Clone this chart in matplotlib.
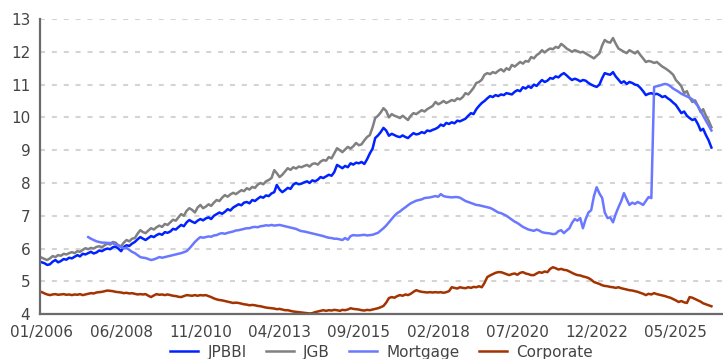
import matplotlib
matplotlib.use("Agg")
import matplotlib.pyplot as plt
import matplotlib.dates as mdates
import pandas as pd

# Monthly yields (%), Jan 2006 onwards
months = pd.date_range("2006-01-01", periods=246, freq="MS")

jpbbi = [
    5.58, 5.55, 5.50, 5.52, 5.60, 5.65, 5.58, 5.62, 5.68, 5.66, 5.72, 5.70,
    5.75, 5.80, 5.76, 5.84, 5.82, 5.86, 5.90, 5.85, 5.88, 5.94, 5.92, 5.97,
    6.00, 5.98, 6.04, 6.06, 6.00, 5.92, 6.05, 6.10, 6.08, 6.15, 6.20, 6.28,
    6.35, 6.30, 6.26, 6.32, 6.38, 6.35, 6.41, 6.45, 6.42, 6.50, 6.48, 6.52,
    6.60, 6.58, 6.65, 6.72, 6.68, 6.80, 6.87, 6.82, 6.78, 6.85, 6.90, 6.86,
    6.92, 6.95, 6.90, 7.00, 7.05, 7.10, 7.06, 7.12, 7.20, 7.16, 7.25, 7.30,
    7.35, 7.32, 7.40, 7.42, 7.38, 7.48, 7.45, 7.52, 7.58, 7.55, 7.62, 7.60,
    7.68, 7.72, 7.94, 7.80, 7.72, 7.78, 7.85, 7.82, 7.95, 8.00, 7.96, 7.98,
    8.02, 8.05, 8.00, 8.08, 8.05, 8.10, 8.18, 8.15, 8.20, 8.25, 8.22, 8.33,
    8.55, 8.50, 8.45, 8.52, 8.48, 8.60, 8.56, 8.62, 8.60, 8.64, 8.58, 8.72,
    8.90, 9.05, 9.37, 9.45, 9.55, 9.68, 9.60, 9.44, 9.50, 9.46, 9.42, 9.40,
    9.45, 9.40, 9.37, 9.45, 9.52, 9.48, 9.50, 9.55, 9.52, 9.60, 9.58, 9.62,
    9.65, 9.70, 9.78, 9.74, 9.83, 9.80, 9.85, 9.82, 9.90, 9.88, 9.92, 9.96,
    10.05, 10.13, 10.10, 10.25, 10.35, 10.44, 10.50, 10.58, 10.65, 10.62, 10.68, 10.65,
    10.70, 10.68, 10.74, 10.72, 10.70, 10.78, 10.83, 10.80, 10.92, 10.88, 10.95, 10.90,
    11.00, 10.96, 11.05, 11.14, 11.08, 11.12, 11.20, 11.18, 11.25, 11.22, 11.30, 11.35,
    11.28, 11.20, 11.14, 11.18, 11.15, 11.10, 11.14, 11.12, 11.05, 11.00, 10.96, 10.93,
    11.00, 11.20, 11.35, 11.32, 11.30, 11.38, 11.25, 11.15, 11.05, 11.10, 11.02, 11.08,
    11.05, 11.00, 10.98, 10.90, 10.80, 10.68, 10.72, 10.74, 10.70, 10.72, 10.68, 10.62,
    10.65, 10.58, 10.53, 10.45, 10.38, 10.25, 10.13, 10.18, 10.05, 9.98, 9.92, 9.95,
    9.80, 9.60, 9.65, 9.46, 9.30, 9.08,
]

jgb = [
    5.72, 5.68, 5.65, 5.70, 5.77, 5.74, 5.80, 5.78, 5.84, 5.82, 5.86, 5.89,
    5.86, 5.92, 5.90, 5.96, 6.01, 5.98, 6.02, 6.00, 6.05, 6.07, 6.04, 6.10,
    6.15, 6.12, 6.20, 6.18, 6.10, 6.07, 6.18, 6.26, 6.22, 6.30, 6.32, 6.45,
    6.56, 6.50, 6.47, 6.55, 6.62, 6.58, 6.65, 6.70, 6.66, 6.75, 6.72, 6.80,
    6.88, 6.85, 6.95, 7.05, 7.00, 7.15, 7.23, 7.18, 7.10, 7.25, 7.33, 7.23,
    7.28, 7.35, 7.30, 7.40, 7.48, 7.45, 7.55, 7.63, 7.58, 7.65, 7.70, 7.66,
    7.72, 7.78, 7.75, 7.84, 7.80, 7.88, 7.85, 7.95, 8.00, 7.96, 8.05, 8.09,
    8.15, 8.39, 8.30, 8.18, 8.25, 8.35, 8.45, 8.40, 8.48, 8.44, 8.50, 8.48,
    8.52, 8.55, 8.50, 8.58, 8.60, 8.56, 8.65, 8.70, 8.68, 8.79, 8.75, 8.90,
    9.06, 9.00, 8.94, 9.02, 9.10, 9.05, 9.12, 9.22, 9.15, 9.18, 9.30, 9.40,
    9.46, 9.70, 9.98, 10.05, 10.15, 10.28, 10.20, 10.00, 10.10, 10.05, 10.02, 9.98,
    10.05, 9.98, 9.92, 10.05, 10.13, 10.10, 10.16, 10.22, 10.18, 10.25, 10.30, 10.35,
    10.47, 10.40, 10.44, 10.50, 10.44, 10.48, 10.53, 10.50, 10.58, 10.55, 10.62, 10.74,
    10.70, 10.80, 10.90, 11.05, 11.08, 11.15, 11.30, 11.35, 11.32, 11.38, 11.35, 11.42,
    11.47, 11.40, 11.50, 11.45, 11.60, 11.55, 11.62, 11.69, 11.64, 11.72, 11.70, 11.84,
    11.80, 11.90, 11.95, 12.05, 11.98, 12.05, 12.10, 12.08, 12.15, 12.12, 12.24, 12.18,
    12.10, 12.05, 12.00, 12.05, 12.02, 11.98, 12.00, 11.95, 11.90, 11.85, 11.80, 11.88,
    11.95, 12.20, 12.36, 12.30, 12.28, 12.42, 12.25, 12.10, 12.05, 12.00, 11.96, 12.05,
    12.00, 11.95, 12.02, 11.90, 11.80, 11.69, 11.72, 11.70, 11.66, 11.69, 11.62, 11.55,
    11.50, 11.44, 11.38, 11.30, 11.14, 11.05, 10.95, 10.74, 10.80, 10.60, 10.47, 10.52,
    10.35, 10.16, 10.25, 10.05, 9.90, 9.70,
]

# Mortgage series starts in June 2007
mortgage_start = 17
mortgage = [
    6.35, 6.30, 6.26, 6.22, 6.20, 6.18, 6.18,
    6.17, 6.17, 6.16, 6.12, 6.10, 6.04, 6.01, 6.02, 5.96, 5.90, 5.86, 5.80,
    5.74, 5.72, 5.71, 5.68, 5.65, 5.67, 5.70, 5.74, 5.72, 5.74, 5.76, 5.78,
    5.80, 5.82, 5.84, 5.86, 5.89, 5.92, 6.00, 6.10, 6.20, 6.28, 6.35, 6.33,
    6.35, 6.37, 6.36, 6.40, 6.41, 6.45, 6.47, 6.45, 6.48, 6.50, 6.52, 6.55,
    6.56, 6.58, 6.60, 6.62, 6.62, 6.65, 6.66, 6.65, 6.68, 6.69, 6.71, 6.70,
    6.72, 6.70, 6.71, 6.72, 6.70, 6.68, 6.66, 6.64, 6.62, 6.60, 6.56, 6.53,
    6.52, 6.50, 6.48, 6.46, 6.44, 6.42, 6.40, 6.38, 6.35, 6.33, 6.32, 6.30,
    6.30, 6.28, 6.26, 6.32, 6.27, 6.38, 6.41, 6.40, 6.40, 6.41, 6.42, 6.40,
    6.41, 6.42, 6.45, 6.48, 6.55, 6.62, 6.70, 6.80, 6.90, 7.00, 7.08, 7.13,
    7.20, 7.26, 7.32, 7.38, 7.42, 7.46, 7.48, 7.50, 7.54, 7.55, 7.56, 7.58,
    7.60, 7.58, 7.66, 7.60, 7.58, 7.57, 7.56, 7.57, 7.57, 7.55, 7.50, 7.45,
    7.42, 7.39, 7.36, 7.33, 7.32, 7.30, 7.28, 7.26, 7.24, 7.20, 7.15, 7.10,
    7.08, 7.04, 7.00, 6.94, 6.88, 6.82, 6.78, 6.72, 6.66, 6.62, 6.58, 6.56,
    6.54, 6.58, 6.55, 6.50, 6.48, 6.47, 6.46, 6.44, 6.45, 6.53, 6.56, 6.47,
    6.55, 6.62, 6.78, 6.90, 6.85, 6.93, 6.62, 6.90, 7.10, 7.17, 7.60, 7.87,
    7.68, 7.54, 7.10, 6.93, 6.95, 6.80, 7.05, 7.26, 7.45, 7.69, 7.50, 7.33,
    7.40, 7.36, 7.42, 7.38, 7.33, 7.45, 7.57, 7.54, 10.93, 10.95, 10.97, 11.00,
    11.02, 11.00, 10.95, 10.88, 10.83, 10.78, 10.72, 10.68, 10.64, 10.60, 10.55, 10.45,
    10.35, 10.20, 10.05, 9.90, 9.75, 9.60,
]

corporate = [
    4.67, 4.63, 4.60, 4.58, 4.60, 4.61, 4.59, 4.60, 4.61, 4.59, 4.60, 4.58,
    4.60, 4.59, 4.61, 4.58, 4.60, 4.62, 4.64, 4.63, 4.66, 4.67, 4.68, 4.70,
    4.72, 4.71, 4.70, 4.68, 4.67, 4.66, 4.64, 4.65, 4.63, 4.64, 4.62, 4.60,
    4.61, 4.60, 4.61, 4.56, 4.52, 4.57, 4.61, 4.59, 4.60, 4.58, 4.60, 4.58,
    4.56, 4.55, 4.53, 4.52, 4.55, 4.58, 4.57, 4.56, 4.58, 4.56, 4.58, 4.57,
    4.58, 4.55, 4.52, 4.48, 4.45, 4.43, 4.42, 4.40, 4.38, 4.36, 4.34, 4.35,
    4.34, 4.32, 4.30, 4.29, 4.27, 4.28, 4.27, 4.25, 4.24, 4.22, 4.20, 4.19,
    4.18, 4.17, 4.15, 4.16, 4.14, 4.12, 4.12, 4.10, 4.08, 4.07, 4.06, 4.05,
    4.04, 4.03, 4.02, 4.03, 4.06, 4.08, 4.10, 4.12, 4.10, 4.12, 4.11, 4.13,
    4.12, 4.10, 4.13, 4.12, 4.14, 4.18, 4.16, 4.15, 4.14, 4.12, 4.11, 4.13,
    4.12, 4.14, 4.16, 4.18, 4.21, 4.25, 4.35, 4.49, 4.52, 4.50, 4.55, 4.58,
    4.56, 4.60, 4.58, 4.62, 4.68, 4.73, 4.70, 4.68, 4.67, 4.66, 4.67, 4.66,
    4.67, 4.66, 4.67, 4.65, 4.67, 4.70, 4.82, 4.80, 4.78, 4.82, 4.80, 4.79,
    4.82, 4.80, 4.83, 4.82, 4.85, 4.82, 4.95, 5.13, 5.18, 5.22, 5.26, 5.28,
    5.28, 5.25, 5.22, 5.19, 5.22, 5.24, 5.20, 5.26, 5.28, 5.24, 5.22, 5.19,
    5.19, 5.24, 5.28, 5.26, 5.30, 5.28, 5.38, 5.43, 5.40, 5.36, 5.38, 5.35,
    5.34, 5.30, 5.26, 5.22, 5.19, 5.18, 5.15, 5.13, 5.10, 5.05, 4.98, 4.95,
    4.92, 4.88, 4.86, 4.85, 4.83, 4.82, 4.80, 4.82, 4.79, 4.77, 4.75, 4.73,
    4.72, 4.70, 4.68, 4.65, 4.62, 4.58, 4.62, 4.60, 4.64, 4.61, 4.59, 4.57,
    4.55, 4.52, 4.50, 4.46, 4.42, 4.37, 4.40, 4.36, 4.34, 4.52, 4.50, 4.46,
    4.42, 4.38, 4.33, 4.30, 4.27, 4.24,
]

series_names = ["JPBBI", "JGB", "Mortgage", "Corporate"]
series_colors = ["#0022ff", "#808080", "#6a78ff", "#a33300"]

fig = plt.figure(figsize=(7.23, 3.59), dpi=100)
ax = fig.add_axes([0.0553, 0.125, 0.9447, 0.822])

ax.plot(months, jpbbi, color=series_colors[0], lw=1.8, label=series_names[0])
ax.plot(months, jgb, color=series_colors[1], lw=1.8, label=series_names[1])
ax.plot(months[mortgage_start:], mortgage, color=series_colors[2], lw=1.8,
        label=series_names[2])
ax.plot(months, corporate, color=series_colors[3], lw=1.8, label=series_names[3])

ax.set_ylim(4, 13)
ax.set_yticks(range(4, 14))
ax.set_xlim(pd.Timestamp("2005-12-11"), pd.Timestamp("2026-10-08"))
tick_dates = pd.date_range("2006-01-01", periods=9, freq="29MS")
ax.set_xticks(tick_dates)
ax.xaxis.set_major_formatter(mdates.DateFormatter("%m/%Y"))

ax.grid(axis="y", color="#d4d4d4", lw=1.5, dashes=(2.4, 3.3))
ax.set_axisbelow(True)
for side in ["top", "right"]:
    ax.spines[side].set_visible(False)
for side in ["left", "bottom"]:
    ax.spines[side].set_color("#6b6b6b")
    ax.spines[side].set_linewidth(1.6)
ax.tick_params(length=0, labelsize=11, labelcolor="#444444")
ax.tick_params(axis="y", pad=7)
ax.tick_params(axis="x", pad=8)

ax.legend(loc="center", bbox_to_anchor=(0.5, -0.129), ncol=4, frameon=False,
          fontsize=11, handlelength=1.85, handletextpad=0.6, columnspacing=1.25,
          labelcolor="#444444")

fig.savefig("out.png", dpi=100)
